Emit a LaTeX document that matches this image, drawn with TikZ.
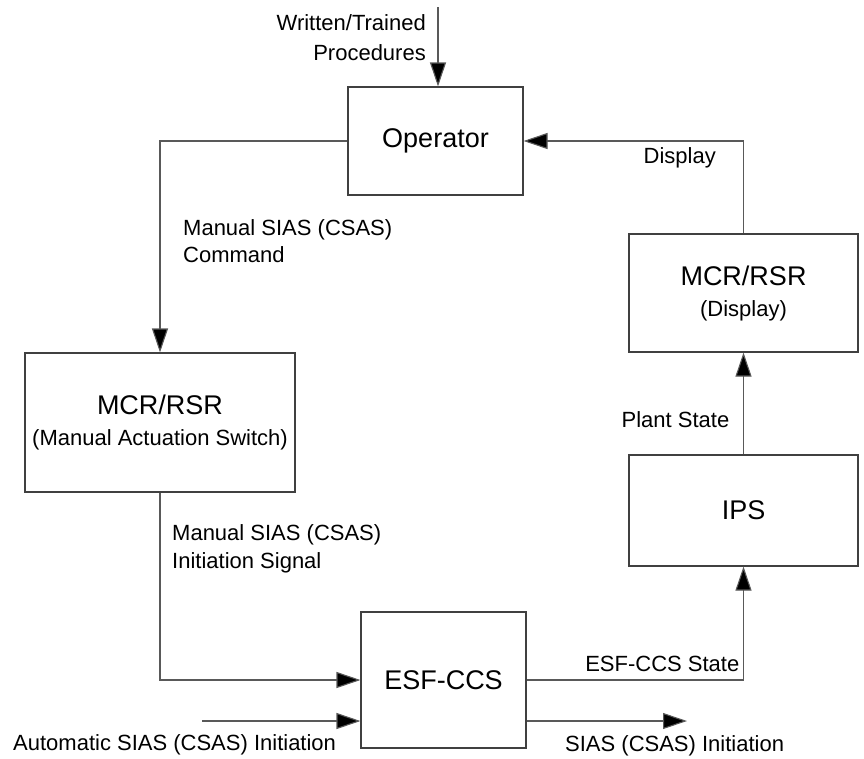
\documentclass[tikz,border=0pt]{standalone}
\usepackage{fontspec}
\setmainfont{Liberation Sans}
\usetikzlibrary{arrows.meta,positioning}
\begin{document}
\begin{tikzpicture}[x=1pt,y=-1pt,
  blk/.style={draw=black!75,line width=1.1pt,inner sep=0pt,align=center,font=\fontsize{27}{32}\selectfont},
  lbl/.style={inner sep=0pt,font=\fontsize{22}{30}\selectfont},
  line/.style={draw=black!65,line width=1.1pt},
  arr/.style={line,-{Triangle[length=24pt,width=16pt,fill=black]}}]
\useasboundingbox (0,0) rectangle (864,758);

\node [blk,minimum width=175pt,minimum height=108pt](node1) at (435.5,141){Operator};
\node [blk,minimum width=270pt,minimum height=139pt](node2) at (160,422.5){MCR/RSR\\[-1pt]{\fontsize{22}{26}\selectfont (Manual Actuation Switch)}};
\node [blk,minimum width=165pt,minimum height=136pt](node3) at (443.5,680){ESF-CCS};
\node [blk,minimum width=229pt,minimum height=111pt](node4) at (743.5,510.5){IPS};
\node [blk,minimum width=229pt,minimum height=118pt](node5) at (743.5,293){MCR/RSR\\[-1pt]{\fontsize{22}{26}\selectfont (Display)}};

\coordinate (node0) at (438,7);
\draw [arr](node0)--(node0 |- node1.north);
\node [lbl,anchor=east,align=right](node1-1) at ([xshift=-12pt,yshift=-30.5pt]node0){Written/Trained\\Procedures};

\draw [arr](node1.west)-|(node2.north);
\node [lbl,anchor=west,align=left](node1-2) at (183,241.5){Manual SIAS (CSAS)\\[-3pt]Command};

\draw [arr](node2.south)|-(node3.west);
\node [lbl,anchor=west,align=left](node2-1) at ([xshift=12pt,yshift=-56.5pt]node2.south){Manual SIAS (CSAS)\\[-2pt]Initiation Signal};

\coordinate (node3-0) at (202,721);
\draw [arr](node3-0)--(node3-0 -| node3.west);
\node [lbl,anchor=west](node3-1) at (13,745){Automatic SIAS (CSAS) Initiation};

\coordinate (node3-2) at (687,721);
\draw [arr](node3-2 -| node3.east)--(node3-2);
\node [lbl,anchor=west](node3-3) at (565,746){SIAS (CSAS) Initiation};

\draw [arr](node3.east)-|(node4.south);
\node [lbl,anchor=south east](node3-4) at ([xshift=-4pt,yshift=8pt]node4.south |- node3.east){ESF-CCS State};

\draw [arr](node4.north)--(node5.south);
\node [lbl,anchor=east](node4-1) at ([xshift=-14pt]node4.north |- 0,420){Plant State};

\draw [arr](node5.north)|-(node1.east);
\node [lbl,anchor=east](node5-1) at (716,158){Display};

\end{tikzpicture}
\end{document}
